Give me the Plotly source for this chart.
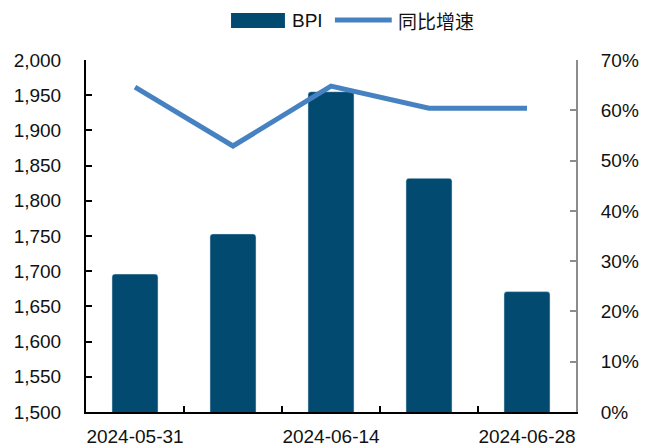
import plotly.graph_objects as go

dates = ["2024-05-31", "2024-06-07", "2024-06-14", "2024-06-21", "2024-06-28"]
tick_labels = ["2024-05-31", "", "2024-06-14", "", "2024-06-28"]
bpi = [1696, 1753, 1955, 1832, 1671]
yoy = [0.646, 0.529, 0.648, 0.604, 0.604]
series_names = ["BPI", "同比增速"]

bar_color = "#024A70"
line_color = "#4682C1"
font_fam = "Liberation Sans, Arial, Noto Sans CJK SC, sans-serif"

fig = go.Figure()
fig.add_trace(go.Bar(x=dates, y=bpi, name=series_names[0],
                     marker=dict(color=bar_color, cornerradius=3), yaxis="y", showlegend=False))
fig.add_trace(go.Scatter(x=dates, y=yoy, name=series_names[1], mode="lines",
                         line=dict(color=line_color, width=5), yaxis="y2", showlegend=False))

# manual legend (wide swatches like the original)
fig.add_shape(type="rect", xref="paper", yref="paper", x0=0.296, x1=0.406, y0=1.0909, y1=1.1335,
              fillcolor=bar_color, line=dict(width=0))
fig.add_shape(type="line", xref="paper", yref="paper", x0=0.508, x1=0.624, y0=1.1136, y1=1.1136,
              line=dict(color=line_color, width=5))
fig.add_annotation(text=series_names[0], xref="paper", yref="paper", x=0.416, y=1.1136,
                   xanchor="left", yanchor="middle", showarrow=False,
                   font=dict(size=19, family="Liberation Sans, Arial, sans-serif", color="#111111"))
fig.add_annotation(text=series_names[1], xref="paper", yref="paper", x=0.633, y=1.1136,
                   xanchor="left", yanchor="middle", showarrow=False,
                   font=dict(size=19, family="Noto Sans CJK SC, sans-serif", color="#111111"))

fig.update_layout(
    width=655, height=448,
    margin=dict(l=78, r=87, t=52, b=44, autoexpand=False),
    paper_bgcolor="white", plot_bgcolor="white",
    font=dict(family=font_fam, size=19, color="#111111"),
    bargap=0.53,
    showlegend=False,
    xaxis=dict(type="category", tickmode="array", tickvals=dates, ticktext=tick_labels,
               tickangle=0,
               ticks="inside", tickson="boundaries", ticklen=6, tickwidth=2, tickcolor="black",
               showline=True, linecolor="black", linewidth=2, showgrid=False,
               ticklabelstandoff=6, tickfont=dict(size=19)),
    yaxis=dict(range=[1500, 2000], dtick=50, tickformat=",", ticks="inside", ticklen=6,
               tickwidth=2, tickcolor="black", showline=True, linecolor="black", linewidth=2,
               showgrid=False, zeroline=False, ticklabelstandoff=19, tickfont=dict(size=19)),
    yaxis2=dict(range=[0, 0.7], dtick=0.1, tickformat=".0%", overlaying="y", side="right",
                ticks="inside", ticklen=6, tickwidth=2, tickcolor="#8c8c8c", showline=True,
                linecolor="#8c8c8c", linewidth=2, showgrid=False, zeroline=False,
                ticklabelstandoff=19, tickfont=dict(size=19)),
)

fig.write_html("out.html")
